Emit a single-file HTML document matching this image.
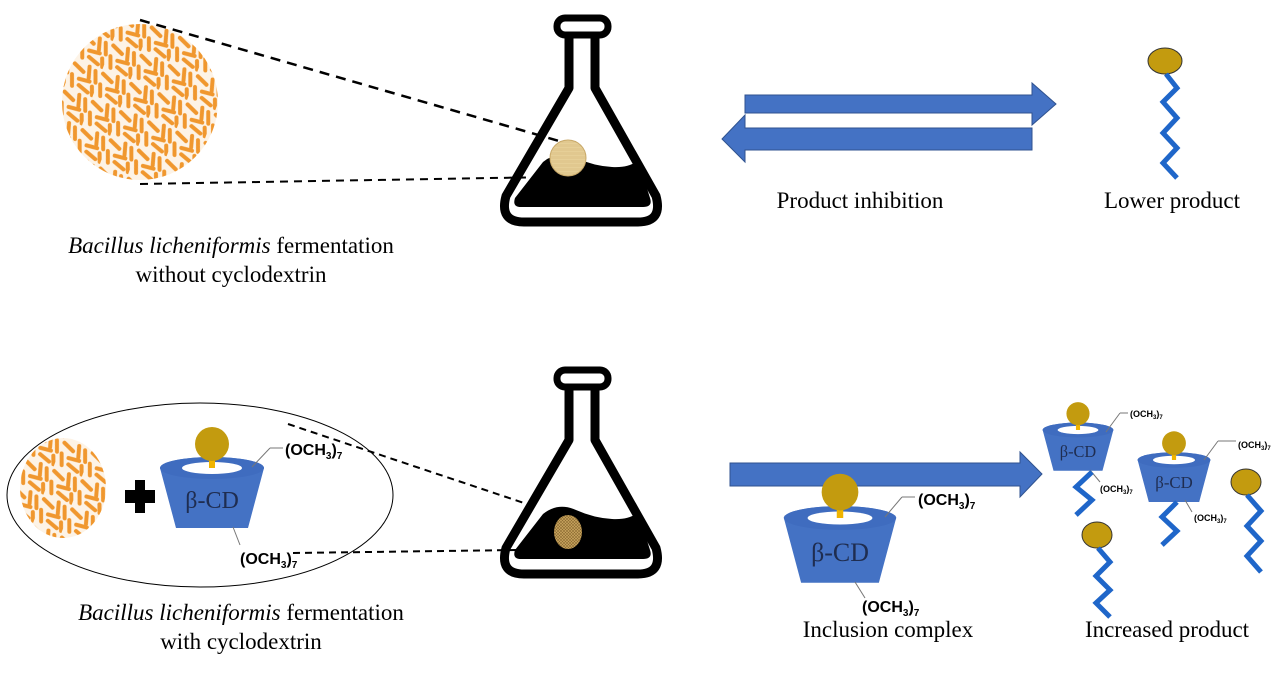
<!DOCTYPE html>
<html><head><meta charset="utf-8"><style>
html,body{margin:0;padding:0;background:#fff;}
svg{display:block;}
text{font-family:"Liberation Serif",serif;}
.o{font-family:"Liberation Sans",sans-serif;font-weight:bold;}
</style></head><body>
<svg width="1280" height="677" viewBox="0 0 1280 677" xmlns="http://www.w3.org/2000/svg">
<defs>
<pattern id="bac" width="30" height="30" patternUnits="userSpaceOnUse" patternTransform="rotate(20)">
<rect width="30" height="30" fill="#fdf3e6"/>
<g stroke="#f0972e" stroke-width="4" stroke-linecap="round">
<line x1="2" y1="4" x2="13" y2="9"/><line x1="17" y1="2" x2="20" y2="13"/>
<line x1="24" y1="4" x2="28" y2="15"/><line x1="3" y1="15" x2="7" y2="26"/>
<line x1="11" y1="17" x2="22" y2="16"/><line x1="13" y1="23" x2="24" y2="27"/>
<line x1="26" y1="20" x2="29" y2="28"/>
</g></pattern>
<pattern id="tex" width="4" height="4" patternUnits="userSpaceOnUse">
<rect width="4" height="4" fill="#e6cf97"/><path d="M0 0H4M0 2H4" stroke="#d2b578" stroke-width="0.6"/></pattern>
<pattern id="tex2" width="3" height="3" patternUnits="userSpaceOnUse">
<rect width="3" height="3" fill="#c9a560"/><path d="M0 0L3 3M3 0L0 3" stroke="#8a6a30" stroke-width="0.6"/></pattern>
<g id="cup">
<path d="M-52 0 A52 11 0 0 1 52 0 L36 60 H-36 Z" fill="#4472c4"/>
<ellipse cx="0" cy="0" rx="52" ry="11" fill="#3f6cbf"/>
<ellipse cx="0" cy="0" rx="30" ry="6" fill="#fff"/>
<rect x="-3" y="-16" width="6" height="16" fill="#f0b400"/>
<circle cx="0" cy="-24" r="17" fill="#c39b0f"/>
<text x="0" y="40" font-size="24" text-anchor="middle" fill="#1f2d50">β-CD</text>
</g>
<g id="flask">
<rect x="557" y="18" width="51" height="17" rx="8" fill="none" stroke="#000" stroke-width="7"/>
<path d="M569 35 V88 L506 196 Q499 222 524 222 H638 Q663 222 656 196 L595 88 V35" fill="none" stroke="#000" stroke-width="9" stroke-linejoin="round"/>
<path d="M543 162 Q558 150 576 158 Q594 166 612 167 Q630 168 638 160 L650 198 Q653 207 643 207 H521 Q512 207 515 198 Z" fill="#000"/>
</g>
</defs>

<circle cx="140" cy="102" r="78" fill="url(#bac)"/>
<line x1="140" y1="20" x2="566" y2="143" stroke="#000" stroke-width="2.5" stroke-dasharray="10,7"/>
<line x1="140" y1="184" x2="552" y2="177" stroke="#000" stroke-width="2" stroke-dasharray="8,6"/>

<use href="#flask"/>
<circle cx="568" cy="158" r="18" fill="url(#tex)" stroke="#c8a868" stroke-width="1"/>

<polygon points="745,95 1032,95 1032,83 1056,104 1032,125 1032,113 745,113" fill="#4472c4" stroke="#2f528f" stroke-width="1"/>
<polygon points="1032,128 745,128 745,115 722,139 745,162 745,150 1032,150" fill="#4472c4" stroke="#2f528f" stroke-width="1"/>

<ellipse cx="1165" cy="61" rx="17" ry="13" fill="#c39b0f" stroke="#333" stroke-width="1"/>
<polyline points="1166,74 1177,88 1163,102 1177,118 1163,133 1177,148 1163,163 1177,178" fill="none" stroke="#1f66c9" stroke-width="5"/>

<text x="860" y="208" font-size="23" text-anchor="middle">Product inhibition</text>
<text x="1172" y="208" font-size="23" text-anchor="middle">Lower product</text>
<text x="231" y="253" font-size="23" text-anchor="middle"><tspan font-style="italic">Bacillus licheniformis</tspan> fermentation</text>
<text x="231" y="282" font-size="23" text-anchor="middle">without cyclodextrin</text>

<use href="#flask" transform="translate(0,352)"/>
<ellipse cx="568" cy="532" rx="14" ry="17" fill="url(#tex2)"/>

<ellipse cx="200" cy="495" rx="193" ry="92" fill="none" stroke="#000" stroke-width="1"/>
<ellipse cx="63" cy="488" rx="43" ry="50" fill="url(#bac)"/>
<path d="M125 490 H135 V480 H145 V490 H155 V503 H145 V513 H135 V503 H125 Z" fill="#000"/>
<line x1="288" y1="424" x2="530" y2="505" stroke="#000" stroke-width="2" stroke-dasharray="7,5"/>
<line x1="293" y1="553" x2="518" y2="550" stroke="#000" stroke-width="2" stroke-dasharray="7,5"/>

<use href="#cup" transform="translate(212,468)"/>
<line x1="252" y1="467" x2="270" y2="448" stroke="#777"/><line x1="270" y1="448" x2="283" y2="448" stroke="#777"/>
<text class="o" x="285" y="455" font-size="16">(OCH<tspan font-size="10" dy="4">3</tspan><tspan dy="-4">)</tspan><tspan font-size="10" dy="4">7</tspan></text>
<line x1="233" y1="527" x2="240" y2="545" stroke="#777"/>
<text class="o" x="240" y="564" font-size="16">(OCH<tspan font-size="10" dy="4">3</tspan><tspan dy="-4">)</tspan><tspan font-size="10" dy="4">7</tspan></text>

<text x="241" y="620" font-size="23" text-anchor="middle"><tspan font-style="italic">Bacillus licheniformis</tspan> fermentation</text>
<text x="241" y="649" font-size="23" text-anchor="middle">with cyclodextrin</text>

<polygon points="730,463 1020,463 1020,452 1042,474 1020,497 1020,486 730,486" fill="#4472c4" stroke="#2f528f" stroke-width="1"/>

<use href="#cup" transform="translate(840,518) scale(1.08)"/>
<line x1="885" y1="517" x2="902" y2="497" stroke="#777"/><line x1="902" y1="497" x2="915" y2="497" stroke="#777"/>
<text class="o" x="918" y="505" font-size="16">(OCH<tspan font-size="10" dy="4">3</tspan><tspan dy="-4">)</tspan><tspan font-size="10" dy="4">7</tspan></text>
<line x1="855" y1="582" x2="865" y2="598" stroke="#777"/>
<text class="o" x="862" y="612" font-size="16">(OCH<tspan font-size="10" dy="4">3</tspan><tspan dy="-4">)</tspan><tspan font-size="10" dy="4">7</tspan></text>
<text x="888" y="637" font-size="23" text-anchor="middle">Inclusion complex</text>

<use href="#cup" transform="translate(1078,430) scale(0.68)"/>
<line x1="1106" y1="432" x2="1120" y2="413" stroke="#777"/><line x1="1120" y1="413" x2="1128" y2="413" stroke="#777"/>
<text class="o" x="1130" y="417" font-size="9">(OCH<tspan font-size="6" dy="2">3</tspan><tspan dy="-2">)</tspan><tspan font-size="6" dy="2">7</tspan></text>
<line x1="1090" y1="470" x2="1100" y2="482" stroke="#777"/>
<text class="o" x="1100" y="492" font-size="9">(OCH<tspan font-size="6" dy="2">3</tspan><tspan dy="-2">)</tspan><tspan font-size="6" dy="2">7</tspan></text>
<polyline points="1092,472 1076,487 1092,500 1076,515" fill="none" stroke="#1f66c9" stroke-width="5"/>

<use href="#cup" transform="translate(1174,460) scale(0.7)"/>
<line x1="1204" y1="460" x2="1218" y2="441" stroke="#777"/><line x1="1218" y1="441" x2="1236" y2="441" stroke="#777"/>
<text class="o" x="1238" y="448" font-size="9">(OCH<tspan font-size="6" dy="2">3</tspan><tspan dy="-2">)</tspan><tspan font-size="6" dy="2">7</tspan></text>
<line x1="1185" y1="500" x2="1192" y2="512" stroke="#777"/>
<text class="o" x="1194" y="521" font-size="9">(OCH<tspan font-size="6" dy="2">3</tspan><tspan dy="-2">)</tspan><tspan font-size="6" dy="2">7</tspan></text>
<polyline points="1177,502 1162,517 1177,531 1162,545" fill="none" stroke="#1f66c9" stroke-width="5"/>

<ellipse cx="1097" cy="535" rx="15" ry="13" fill="#c39b0f" stroke="#333" stroke-width="1"/>
<polyline points="1098,548 1110,562 1096,576 1110,590 1096,603 1110,617" fill="none" stroke="#1f66c9" stroke-width="5"/>
<ellipse cx="1246" cy="482" rx="15" ry="13" fill="#c39b0f" stroke="#333" stroke-width="1"/>
<polyline points="1247,495 1261,511 1247,526 1261,541 1247,556 1261,572" fill="none" stroke="#1f66c9" stroke-width="5"/>
<text x="1167" y="637" font-size="23" text-anchor="middle">Increased product</text>
</svg>
</body></html>
